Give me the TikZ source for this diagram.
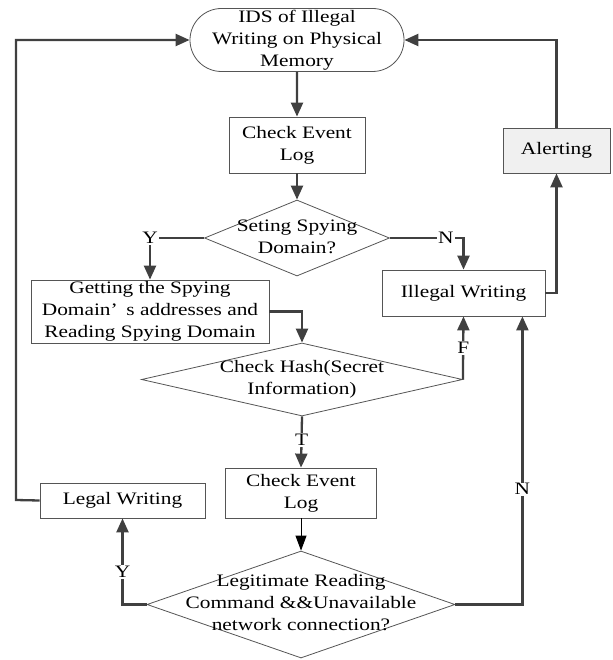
\documentclass[tikz,border=0pt]{standalone}
\usepackage{fontspec}
\setmainfont{Liberation Serif}[FakeStretch=1.22]
\usepackage{tikz}
\usetikzlibrary{arrows.meta,positioning,shapes.geometric,shapes.misc}
\definecolor{linec}{HTML}{404040}
\definecolor{bordc}{HTML}{555555}
\definecolor{alertc}{HTML}{F0F0F0}
\newcommand{\dtext}[1]{\smash{\makebox[0pt]{\raisebox{-.25em}{\begin{tabular}{@{}c@{}}#1\end{tabular}}}}}

\begin{document}
\begin{tikzpicture}[x=1pt,y=-1pt,every node/.style={font=\fontsize{17.5}{22}\selectfont},
  box/.style={draw=bordc,line width=0.8pt,fill=white,align=center,inner sep=0pt},
  dec/.style={draw=bordc,line width=0.8pt,fill=white,diamond,inner sep=0pt},
  flow/.style={draw=linec,line width=2.3pt,-{Triangle[length=14pt,width=12pt]}},
  lbl/.style={fill=white,inner sep=1pt}]
\useasboundingbox (0,0) rectangle (612,660);
\node[box,rounded rectangle,minimum width=195pt,minimum height=63pt] (start) at (297,40) {IDS of Illegal\\Writing on Physical\\Memory};
\node[box,minimum width=136pt,minimum height=56pt] (chk1) at (297,145) {Check Event\\Log};
\node[dec,minimum width=185pt,minimum height=76pt] (setdom) at (297,238) {\dtext{Seting Spying\\Domain?}};
\node[box,fill=alertc,minimum width=107pt,minimum height=45pt] (alert) at (556.5,150.5) {Alerting};
\node[box,minimum width=163pt,minimum height=46pt] (illegal) at (463.5,293) {Illegal Writing};
\node[box,minimum width=238pt,minimum height=63pt] (getdom) at (150,311.5) {Getting the Spying\\Domain’\enspace s addresses and\\Reading Spying Domain};
\node[dec,minimum width=321pt,minimum height=73pt] (hash) at (302,379.5) {\dtext{Check Hash(Secret\\Information)}};
\node[box,minimum width=151pt,minimum height=50pt] (chk2) at (301,493) {Check Event\\Log};
\node[box,minimum width=165pt,minimum height=35pt] (legal) at (122.5,500.5) {Legal Writing};
\node[dec,minimum width=308pt,minimum height=107pt] (legit) at (301,604.5) {\dtext{Legitimate Reading\\Command \&\&Unavailable\\network connection?}};
\coordinate (back) at (16,500);
% main flow
\draw[flow] (start) -- (chk1);
\draw[flow] (chk1) -- (setdom);
\draw[flow] (setdom.west) -| node[lbl]{Y} (getdom.north);
\draw[flow] (setdom.east) -| node[lbl,pos=0.38]{N} (illegal.north);
\draw[flow] (getdom.east) -| (hash.north);
\draw[flow] (hash.east) -- node[lbl]{F} (illegal.south);
\draw[flow] (hash.south) -- node[lbl,pos=0.46]{T} (chk2.north);
\draw[-{Triangle[length=15pt,width=11pt]},line width=0.9pt,black] (chk2) -- (legit);
\draw[flow] (legit.west) -| node[lbl,pos=0.69]{Y} (legal.south);
\draw[flow] (legit.east) -| node[lbl,pos=0.70]{N} ([xshift=-23pt]illegal.south east);
% back to the start
\draw[flow] (illegal.east) -| (alert.south);
\draw[flow] (alert.north) |- (start.east);
\draw[flow] (legal.west) -- (back) |- (start.west);
\end{tikzpicture}
\end{document}
